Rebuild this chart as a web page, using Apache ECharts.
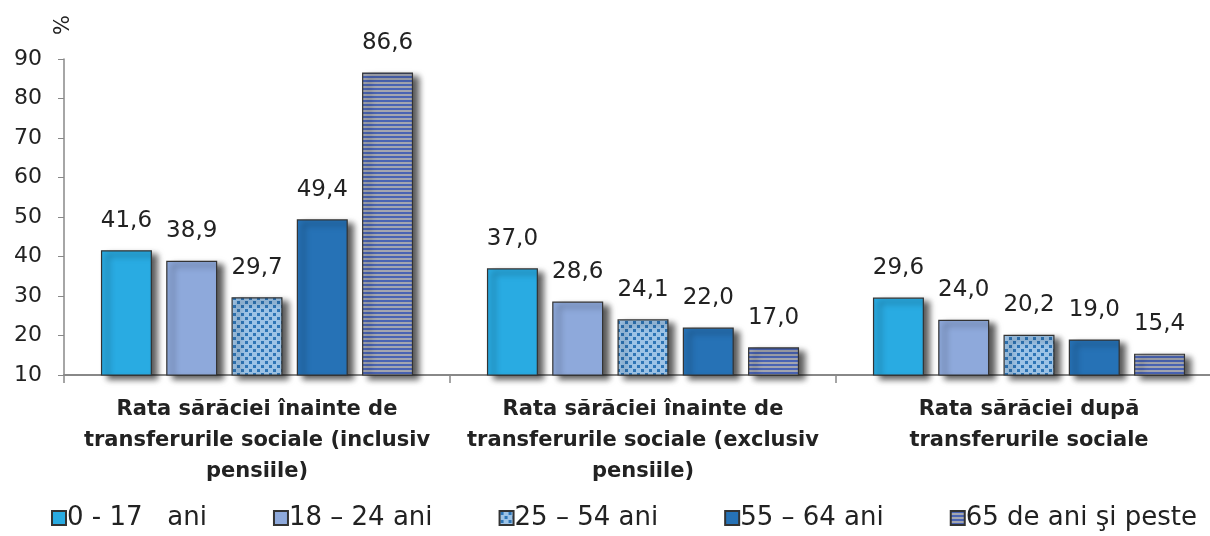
<!DOCTYPE html>
<html>
<head>
<meta charset="utf-8">
<script src="https://cdn.jsdelivr.net/npm/echarts@6/dist/echarts.min.js"></script>
<style>
html,body{margin:0;padding:0;background:#fff;overflow:hidden;}
#chart{width:1222px;height:536px;}
</style>
</head>
<body>
<div id="chart"></div>
<script>
const categories = [
  "Rata sărăciei înainte de\ntransferurile sociale (inclusiv\npensiile)",
  "Rata sărăciei înainte de\ntransferurile sociale (exclusiv\npensiile)",
  "Rata sărăciei după\ntransferurile sociale"
];
const seriesNames = ["0 - 17   ani", "18 – 24 ani", "25 – 54 ani", "55 – 64 ani", "65 de ani şi peste"];
const age0_17 = [41.6, 37.0, 29.6];
const age18_24 = [38.9, 28.6, 24.0];
const age25_54 = [29.7, 24.1, 20.2];
const age55_64 = [49.4, 22.0, 19.0];
const age65plus = [86.6, 17.0, 15.4];
const yTicks = [10, 20, 30, 40, 50, 60, 70, 80, 90];

function dotPattern() {
  const c = document.createElement('canvas');
  c.width = 8; c.height = 8;
  const g = c.getContext('2d');
  g.fillStyle = '#9DC3E6'; g.fillRect(0, 0, 8, 8);
  g.fillStyle = '#2E75B6';
  g.fillRect(1, 1, 3, 3);
  g.fillRect(5, 5, 3, 3);
  return c;
}
function stripePattern() {
  const c = document.createElement('canvas');
  c.width = 4; c.height = 4;
  const g = c.getContext('2d');
  g.fillStyle = '#A3A6B0'; g.fillRect(0, 0, 4, 4);
  g.fillStyle = '#4A64B4'; g.fillRect(0, 0, 4, 2);
  return c;
}

const colors = [
  '#29ABE2',
  '#8EA9DB',
  { image: dotPattern(), repeat: 'repeat' },
  '#2672B6',
  { image: stripePattern(), repeat: 'repeat' }
];
const dataSets = [age0_17, age18_24, age25_54, age55_64, age65plus];

const chart = echarts.init(document.getElementById('chart'));
const fontFamily = 'DejaVu Sans, Liberation Sans, Arial, sans-serif';

const series = dataSets.map((d, i) => ({
  name: seriesNames[i],
  type: 'bar',
  data: d,
  barWidth: 51,
  barGap: '28%',
  itemStyle: {
    color: colors[i],
    borderColor: '#333',
    borderWidth: 1.2,
    shadowColor: 'rgba(0,0,0,0.65)',
    shadowBlur: 6,
    shadowOffsetX: 6,
    shadowOffsetY: 4
  },
  label: {
    show: true,
    position: 'top',
    distance: 18,
    fontFamily: fontFamily,
    fontSize: 23,
    color: '#222',
    formatter: p => p.value.toFixed(1).replace('.', ',')
  }
}));

chart.setOption({
  animation: false,
  textStyle: { fontFamily: fontFamily },
  grid: { left: 64, right: 0, top: 59, bottom: 161, containLabel: false },
  legend: {
    bottom: 0,
    left: 46,
    itemWidth: 14,
    itemHeight: 14,
    itemGap: 66,
    icon: 'rect',
    textStyle: { fontSize: 26, color: '#222', fontFamily: fontFamily, padding: [0, 0, 0, -4] },
    data: seriesNames
  },
  xAxis: {
    type: 'category',
    data: categories,
    axisLine: { lineStyle: { color: '#888', width: 2 } },
    axisTick: { show: true, length: 8, lineStyle: { color: '#888', width: 1.5 } },
    axisLabel: {
      interval: 0,
      fontSize: 21,
      fontWeight: 'bold',
      color: '#222',
      lineHeight: 31,
      margin: 19,
      fontFamily: fontFamily
    }
  },
  yAxis: {
    type: 'value',
    min: 10,
    max: 90,
    interval: 10,
    name: '%',
    nameLocation: 'end',
    nameRotate: 90,
    nameGap: 24,
    nameTextStyle: { fontSize: 21, color: '#222', align: 'left', verticalAlign: 'middle' },
    splitLine: { show: false },
    axisLine: { show: true, lineStyle: { color: '#888', width: 1.5 } },
    axisTick: { show: true, length: 6, lineStyle: { color: '#888' } },
    axisLabel: {
      fontSize: 22,
      color: '#222',
      margin: 22,
      fontFamily: fontFamily,
      formatter: v => yTicks.includes(v) ? String(v) : ''
    }
  },
  series: series
});
</script>
</body>
</html>
